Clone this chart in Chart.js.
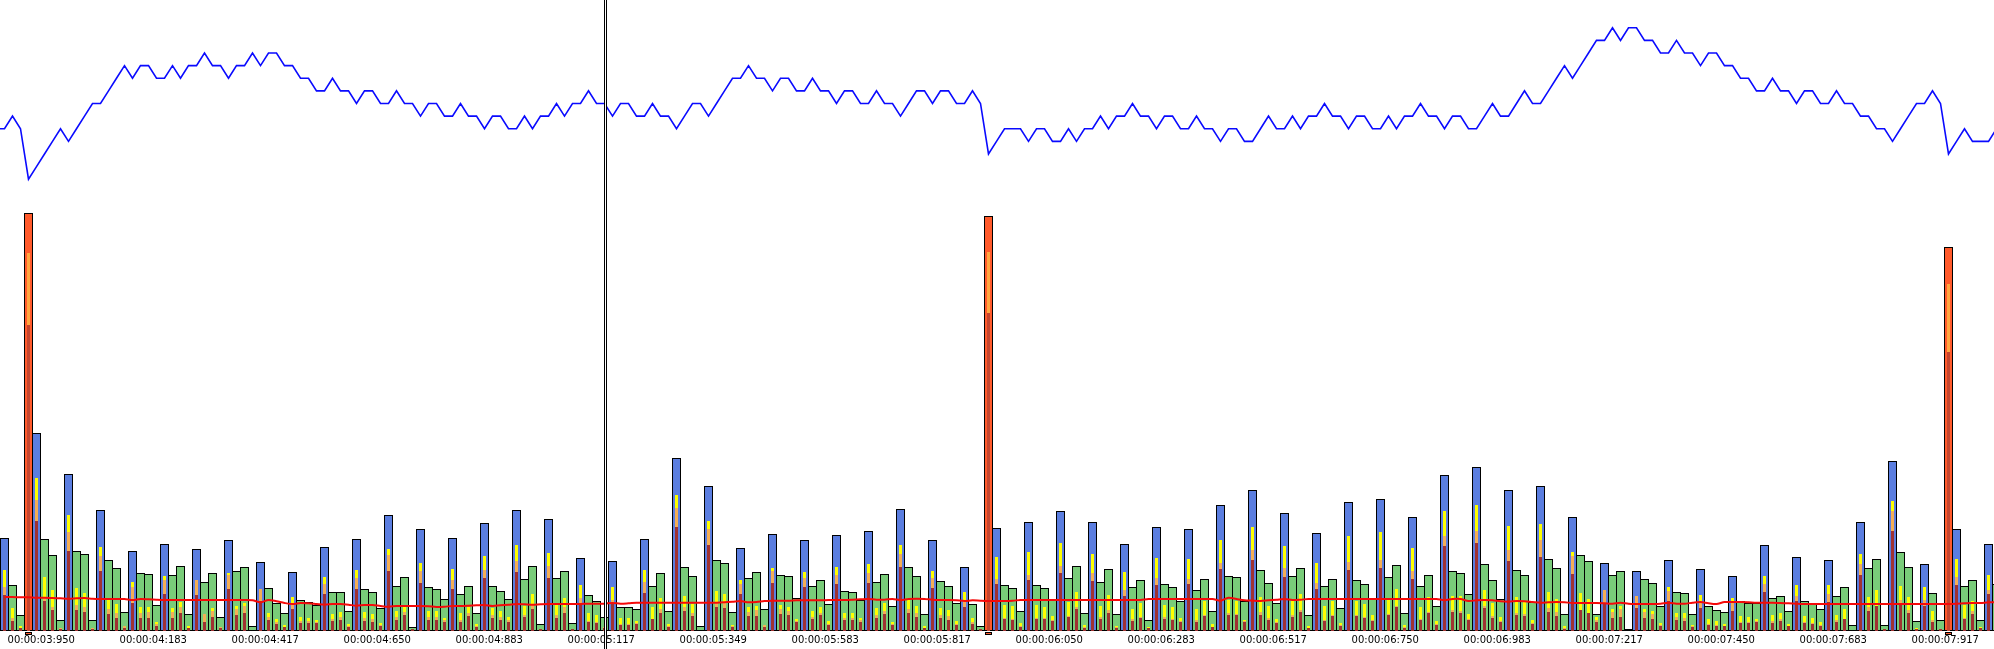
<!DOCTYPE html>
<html>
<head>
<meta charset="utf-8">
<title>Frame timeline</title>
<script src="https://cdn.jsdelivr.net/npm/chart.js@4/dist/chart.umd.min.js"></script>
<style>
html, body { margin: 0; padding: 0; background: #fff; overflow: hidden; }
canvas { display: block; }
</style>
</head>
<body>
<canvas id="frameChart" width="1994" height="649"></canvas>
<script>
// heights, one value per frame
const frameTotals = [
92,45,15,417,197,91,75,10,156,79,76,10,120,70,62,18,79,57,56,25,86,55,64,16,81,48,57,13,90,59,63,4,
68,42,27,17,58,30,28,25,83,38,38,19,91,41,38,22,115,44,53,3,101,43,41,31,92,36,44,17,107,44,39,31,
120,51,64,6,111,52,59,7,72,35,29,13,69,23,23,21,91,44,57,19,172,63,54,4,144,70,67,18,82,52,58,21,
96,55,54,32,90,44,50,26,95,39,38,30,99,48,56,24,121,63,54,16,90,49,44,27,63,26,4,414,102,45,42,19,
108,45,42,31,119,52,64,17,108,48,61,16,86,43,50,10,103,46,43,29,101,40,51,19,125,54,53,29,140,60,47,27,
117,54,62,15,97,44,51,22,128,50,46,31,131,53,65,17,113,44,55,24,155,59,57,36,163,66,50,31,140,60,55,28,
144,71,62,16,113,75,69,16,67,55,59,1,59,51,47,24,70,38,37,16,61,24,20,18,54,29,27,27,85,32,34,19,
73,29,26,21,70,34,43,5,108,62,71,5,169,78,63,9,66,37,10,383,101,44,50,10,86,46
];
const yellowTops = [
60,22,4,377,152,53,40,2,115,42,37,2,83,30,26,4,48,23,23,8,54,22,28,4,50,16,22,3,57,24,27,0,
41,17,11,5,33,13,12,10,53,16,18,6,60,18,16,7,81,19,23,0,67,19,19,12,61,17,23,6,74,22,19,13,
85,24,36,0,77,25,32,1,45,17,15,3,43,12,12,9,60,23,32,6,135,34,26,0,109,39,36,5,50,23,24,5,
62,25,23,11,58,19,23,9,63,17,17,12,66,22,27,8,85,30,24,4,59,22,20,9,38,12,0,378,73,25,24,7,
78,25,23,14,87,28,38,5,76,24,35,4,58,21,27,3,72,25,23,12,71,21,29,6,90,30,29,10,103,33,24,11,
84,29,36,4,67,24,29,7,94,29,26,15,98,30,41,5,82,23,33,9,119,34,34,16,125,40,27,13,104,33,29,10,
106,38,31,4,78,37,31,13,40,21,24,0,34,21,19,7,43,17,17,5,35,11,9,6,32,14,13,11,54,15,17,6,
45,14,12,8,45,15,21,0,76,33,40,1,129,44,33,2,43,19,1,346,71,25,29,3,55,0
];
const orangeTops = [
43,12,2,377,130,32,23,2,98,25,23,2,74,21,17,4,43,17,18,6,50,18,23,2,50,16,19,3,55,21,24,0,
41,13,8,3,27,9,9,8,46,11,13,4,52,12,11,5,75,13,18,0,59,13,13,10,50,10,17,4,60,15,13,10,
69,15,26,0,64,15,23,1,32,9,8,3,30,6,6,7,48,11,21,4,122,23,17,0,101,28,27,4,46,18,20,5,
59,21,19,9,52,13,17,6,55,12,12,10,57,15,19,6,76,21,17,2,52,15,14,6,28,8,0,378,51,12,11,4,
55,12,12,10,64,14,23,3,57,13,20,3,40,11,13,2,52,13,11,9,51,10,15,3,67,17,16,9,80,18,12,8,
62,15,20,2,47,10,15,5,68,15,13,10,70,16,24,3,59,11,18,6,94,20,19,11,99,24,14,9,80,17,16,7,
90,22,18,2,74,20,17,10,40,18,21,0,34,18,16,5,39,13,12,4,29,6,5,4,28,8,8,9,46,9,11,4,
34,8,7,5,36,10,11,0,66,23,24,1,119,30,20,1,30,10,1,346,53,12,19,2,40,0
];
const darkTops = [
35,9,2,305,109,29,20,1,79,20,18,1,59,16,12,2,27,12,12,4,36,12,17,2,35,8,13,2,41,15,17,0,
29,10,6,3,21,7,7,7,36,9,10,3,41,9,8,4,59,10,15,1,47,10,10,8,41,8,14,3,52,12,10,8,
58,13,21,1,52,12,17,1,27,8,7,2,27,5,5,6,37,11,17,3,103,19,14,0,85,23,22,3,36,14,14,3,
47,16,15,8,43,11,15,5,46,10,10,8,47,12,16,5,63,17,13,2,42,12,10,5,23,6,1,317,46,11,10,3,
50,11,11,9,57,13,21,2,49,11,17,2,34,9,12,2,45,11,10,8,46,8,14,3,61,15,15,8,70,15,10,7,
53,13,18,2,41,9,14,4,60,14,12,9,62,15,23,2,51,10,17,5,84,18,17,10,87,22,12,8,69,15,14,6,
73,18,14,1,56,20,17,8,27,12,13,0,22,12,11,4,29,10,9,3,22,5,4,4,19,7,7,8,38,7,9,4,
29,7,6,4,28,8,11,0,55,19,24,1,99,25,17,1,24,8,1,278,45,11,16,2,36,0
];
const averageLine = [
33,33,32.7,32.7,32.3,32.3,32,31.7,31.3,31.7,32,31.3,31,31,31,31,30,31,30.7,30.3,
30,30,30,30,30,30,30,30,30,30,30,29.7,27.7,30,28.7,27,26,27,26.7,26,
25.3,26,26,25.3,24.3,25,25,24,23.3,24,24,24,24,23.7,23,23.3,24,24,24.3,24.7,
25,24,24.7,25.3,26,25.7,25.3,25.7,26,26,26,26,26,26.3,26.3,26.3,27,26.3,26.7,27.3,
27.3,27.3,27.3,27.3,27.3,27.3,27.3,27.3,27.3,27.3,27.7,28.3,29,27.7,28,29,29.3,29.3,29.3,29.7,
29.7,29.7,29.7,30,30,30,30.3,30.7,31,30.3,30.3,31,30,31,31.3,31,30.3,30,30,29.7,
29,29.7,29.3,29,29,29,29.3,30,30,30,30,30,30,30,30,30,30,30,30,30,
30,30,30,31,31,31,31,31,31,31,31,31,29.3,32.3,31,29.7,29.3,29,29.7,30.3,
31,30,30.3,31,31,31,31,31,31,31,31,31,31,31,31,31,31,31,31,31,
30,31,31,29,29.7,30,29.7,28.7,28.3,29,28.7,28,27.3,27.7,28,27.7,27,27,27,27,
26.7,26.3,27.3,26.3,26,26,26,26.3,27.3,26.3,26.3,27.3,28,26.7,26,28,28,28,27.7,27.3,
27.3,27.3,27,26.7,26.3,26,26,26,26,26,26,26,26,26,26,26,26,26,26,26,
26,26,26,26,26.3,26.7,27,27,27.7,27.7
];
// steps below the highest step of the upper trace
const lineLevels = [
8,7,8,12,11,10,9,8,9,8,7,6,6,5,4,3,4,3,3,4,4,3,4,3,3,2,3,3,4,3,3,2,
3,2,2,3,3,4,4,5,5,4,5,5,6,5,5,6,6,5,6,6,7,6,6,7,7,6,7,7,8,7,7,8,
8,7,8,7,7,6,7,6,6,5,6,6,7,6,6,7,7,6,7,7,8,7,6,6,7,6,5,4,4,3,4,4,
5,4,4,5,5,4,5,5,6,5,5,6,6,5,6,6,7,6,5,5,6,5,5,6,6,5,6,10,9,8,8,8,
9,8,8,9,9,8,9,8,8,7,8,7,7,6,7,7,8,7,7,8,8,7,8,8,9,8,8,9,9,8,7,8,
8,7,8,7,7,6,7,7,8,7,7,8,8,7,8,7,7,6,7,7,8,7,7,8,8,7,6,7,7,6,5,6,
6,5,4,3,4,3,2,1,1,0,1,0,0,1,1,2,2,1,2,2,3,2,2,3,3,4,4,5,5,4,5,5,
6,5,5,6,6,5,6,6,7,7,8,8,9,8,7,6,6,5,6,10,9,8,9,9,9,8
];
const lineLeadIn = 8;
const tickLabels = [
'00:00:03:950','00:00:04:183','00:00:04:417','00:00:04:650','00:00:04:883','00:00:05:117',
'00:00:05:349','00:00:05:583','00:00:05:817','00:00:06:050','00:00:06:283','00:00:06:517',
'00:00:06:750','00:00:06:983','00:00:07:217','00:00:07:450','00:00:07:683','00:00:07:917'
];
const tickFrames = [4.6,18.6,32.6,46.6,60.6,74.6,88.6,102.6,116.6,130.6,144.6,158.6,172.6,186.6,200.6,214.6,228.6,242.6];
const spikeFrames = [3,123,243];
const cursorFrame = 75.125;

const points = values => values.map((y, i) => ({ x: i, y: y }));
const isSpike = i => spikeFrames.includes(i);
const outerColor = i => isSpike(i) ? '#FF5A2B' : (i % 4 === 0 ? '#5B7EE0' : '#79CC79');

const innerBar = (values, color, order) => ({
    type: 'bar',
    data: points(values.map(v => v > 0 ? v : null)),
    backgroundColor: color,
    base: -1,
    borderWidth: 0,
    inflateAmount: 0,
    barThickness: 3,
    grouped: false,
    order: order
});

// little marker under the spikes and the double cursor line
const overlayPlugin = {
    id: 'overlay',
    afterDraw(chart) {
        const ctx = chart.ctx;
        const x = chart.scales.x;
        ctx.save();
        spikeFrames.forEach(f => {
            const px = Math.round(x.getPixelForValue(f) - 0.5);
            ctx.fillStyle = '#000';
            ctx.fillRect(px - 3, 632, 7, 3);
            ctx.fillStyle = '#FF5A2B';
            ctx.fillRect(px - 2, 633, 5, 1);
        });
        const cx = Math.round(x.getPixelForValue(cursorFrame) - 0.5);
        ctx.fillStyle = '#000';
        ctx.fillRect(cx - 1, 0, 3, chart.height);
        ctx.fillStyle = '#fff';
        ctx.fillRect(cx, 0, 1, chart.height);
        ctx.restore();
    }
};

new Chart(document.getElementById('frameChart'), {
    data: {
        datasets: [
            {
                type: 'line',
                data: [{ x: -1, y: lineLeadIn }].concat(points(lineLevels)),
                yAxisID: 'levelY',
                borderColor: '#0A0AFF',
                borderWidth: 1.6,
                pointRadius: 0,
                tension: 0,
                order: 1
            },
            {
                type: 'line',
                data: points(averageLine),
                borderColor: '#F50A0A',
                borderWidth: 2,
                pointRadius: 0,
                tension: 0.3,
                order: 2
            },
            innerBar(darkTops, frameTotals.map((_, i) => isSpike(i) ? '#C4452F' : '#A03232'), 3),
            innerBar(orangeTops, frameTotals.map((_, i) => isSpike(i) ? '#FFA63F' : '#F4AE55'), 4),
            innerBar(yellowTops, '#FFFF00', 5),
            {
                type: 'bar',
                data: points(frameTotals),
                backgroundColor: frameTotals.map((_, i) => outerColor(i)),
                base: -1,
                borderColor: '#000',
                borderWidth: 1,
                borderSkipped: false,
                inflateAmount: 0,
                barThickness: 9,
                grouped: false,
                order: 6
            }
        ]
    },
    plugins: [overlayPlugin],
    options: {
        responsive: false,
        animation: false,
        layout: { padding: 0 },
        plugins: { legend: { display: false }, tooltip: { enabled: false } },
        scales: {
            x: {
                type: 'linear',
                offset: false,
                min: -0.5625,
                max: 248.6875,
                grid: { display: false, drawTicks: false, tickLength: 0 },
                border: { display: false },
                afterBuildTicks(axis) {
                    axis.ticks = tickFrames.map(v => ({ value: v }));
                },
                afterFit(axis) {
                    axis.height = 18;
                },
                ticks: {
                    autoSkip: false,
                    maxRotation: 0,
                    padding: 3,
                    color: '#000',
                    font: { family: '"DejaVu Sans"', size: 10 },
                    callback: (value, index) => tickLabels[index]
                }
            },
            y: {
                display: false,
                min: -1,
                max: 630
            },
            levelY: {
                display: false,
                reverse: true,
                min: -2.2,
                max: 47.8
            }
        }
    }
});
</script>
</body>
</html>
